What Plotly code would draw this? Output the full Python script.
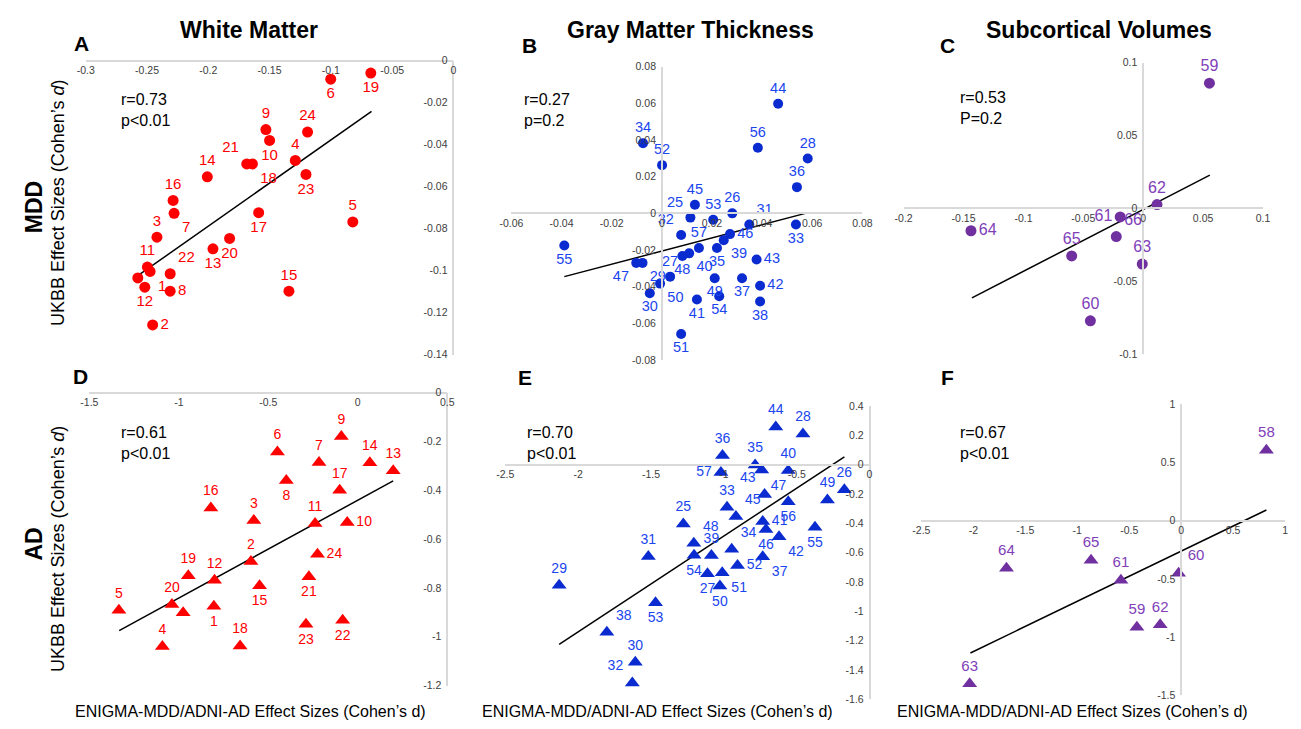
import plotly.graph_objects as go

W, H = 1301, 729

# ---------------- data ----------------
# Panel A: White Matter, MDD
a_lab = ["1","2","3","4","5","6","7","8","9","10","11","12","13","14","15","16","17","18","19","20","21","22","23","24",""]
a_x = [-0.2475,-0.2454,-0.2419,-0.129,-0.0821,-0.1001,-0.2279,-0.2311,-0.153,-0.150,-0.2497,-0.2518,-0.1962,-0.2008,-0.1342,-0.2287,-0.1589,-0.164,-0.0674,-0.1826,-0.1686,-0.2311,-0.1203,-0.119,-0.2575]
a_y = [-0.1004,-0.1259,-0.0841,-0.0475,-0.0768,-0.0088,-0.0727,-0.1098,-0.0328,-0.038,-0.0983,-0.1079,-0.0896,-0.0553,-0.1098,-0.0666,-0.0724,-0.0492,-0.0059,-0.0847,-0.0492,-0.1015,-0.0542,-0.034,-0.1035]
a_fit_x = [-0.2569, -0.0668]
a_fit_y = [-0.1022, -0.0241]

# Panel B: Gray Matter Thickness, MDD
b_lab = [str(i) for i in range(25, 58)]
b_x = [0.0114,0.0281,0.0033,0.0582,-0.0077,-0.0048,0.0349,0.0077,0.0535,-0.0075,0.022,0.0539,0.032,0.0392,0.0247,0.0109,0.014,0.0392,0.0378,0.0464,0.0132,0.0272,-0.0102,0.0082,0.0211,-0.0007,0.0077,0.0001,0.0205,0.0229,-0.0389,0.0383,0.0148]
b_y = [-0.0023,0.0,-0.0345,0.0299,-0.027,-0.0436,-0.0061,-0.0118,-0.0061,0.0383,-0.0189,0.0143,-0.0354,-0.0481,-0.0146,-0.0218,-0.047,-0.0395,-0.0252,0.0598,0.0047,-0.0113,-0.027,-0.0232,-0.0354,-0.0383,-0.0658,0.0263,-0.0035,-0.0452,-0.0175,0.0358,-0.0189]
b_fit_x = [-0.0389, 0.0584]
b_fit_y = [-0.0345, 0.0004]

# Panel C: Subcortical Volumes, MDD
c_lab = ["59","60","61","62","63","64","65","66"]
c_x = [0.0553,-0.0441,-0.0192,0.0115,-0.0008,-0.1438,-0.0597,-0.0225]
c_y = [0.086,-0.0771,-0.0058,0.0027,-0.0382,-0.0153,-0.0326,-0.0193]
c_fit_x = [-0.143, 0.0556]
c_fit_y = [-0.0614, 0.0229]

# Panel D: White Matter, AD
d_lab = a_lab
d_x = [-0.8042,-0.597,-0.581,-1.092,-1.335,-0.449,-0.2165,-0.3994,-0.0918,-0.0588,-0.2385,-0.8005,0.198,0.0676,-0.549,-0.821,-0.101,-0.6577,-0.947,-1.0385,-0.273,-0.0844,-0.2895,-0.225,-0.976]
d_y = [-0.875,-0.692,-0.524,-1.040,-0.891,-0.243,-0.286,-0.36,-0.180,-0.532,-0.536,-0.769,-0.32,-0.2875,-0.7915,-0.473,-0.400,-1.0375,-0.75,-0.868,-0.754,-0.9327,-0.949,-0.6625,-0.902]
d_fit_x = [-1.3335, 0.198]
d_fit_y = [-0.975, -0.3617]

# Panel E: Gray Matter Thickness, AD
e_lab = b_lab
e_x = [-1.278,-0.173,-1.112,-0.457,-2.130,-1.6076,-1.518,-1.6278,-0.978,-0.946,-0.785,-1.009,-0.733,-1.8027,-1.085,-0.558,-0.733,-0.621,-0.720,-0.6435,-0.917,-0.711,-0.740,-1.206,-0.289,-1.027,-1.011,-0.906,-1.4686,-1.204,-0.3744,-0.558,-1.020]
e_y = [-0.4045,-0.170,-0.744,0.210,-0.822,-1.347,-0.6257,-1.488,-0.2905,-0.5765,-0.002,0.0626,-0.628,-1.142,-0.619,-0.040,-0.3866,-0.4916,-0.203,0.257,-0.353,-0.4425,-0.036,-0.536,-0.241,-0.827,-0.737,-0.688,-0.941,-0.617,-0.4268,-0.2525,-0.054]
e_fit_x = [-2.130, -0.1726]
e_fit_y = [-1.2246, 0.0536]

# Panel F: Subcortical Volumes, AD
f_lab = ["58","59","60","61","62","63","64","65"]
f_x = [0.820,-0.426,-0.025,-0.580,-0.202,-2.035,-1.681,-0.8675]
f_y = [0.606,-0.915,-0.451,-0.51,-0.893,-1.40,-0.408,-0.338]
f_fit_x = [-2.028, 0.820]
f_fit_y = [-1.135, 0.093]

stats = ["r=0.73<br>p&lt;0.01", "r=0.27<br>p=0.2", "r=0.53<br>P=0.2",
         "r=0.61<br>p&lt;0.01", "r=0.70<br>p&lt;0.01", "r=0.67<br>p&lt;0.01"]

# tick values / labels
a_xt = [-0.3,-0.25,-0.2,-0.15,-0.1,-0.05,0]; a_xl = ["-0.3","-0.25","-0.2","-0.15","-0.1","-0.05","0"]
a_yt = [0,-0.02,-0.04,-0.06,-0.08,-0.1,-0.12,-0.14]; a_yl = ["0","-0.02","-0.04","-0.06","-0.08","-0.1","-0.12","-0.14"]
b_xt = [-0.06,-0.04,-0.02,0,0.02,0.04,0.06,0.08]; b_xl = ["-0.06","-0.04","-0.02","0","0.02","0.04","0.06","0.08"]
b_yt = [-0.08,-0.06,-0.04,-0.02,0,0.02,0.04,0.06,0.08]; b_yl = ["-0.08","-0.06","-0.04","-0.02","0","0.02","0.04","0.06","0.08"]
c_xt = [-0.2,-0.15,-0.1,-0.05,0,0.05,0.1]; c_xl = ["-0.2","-0.15","-0.1","-0.05","0","0.05","0.1"]
c_yt = [-0.1,-0.05,0,0.05,0.1]; c_yl = ["-0.1","-0.05","0","0.05","0.1"]
d_xt = [-1.5,-1,-0.5,0,0.5]; d_xl = ["-1.5","-1","-0.5","0","0.5"]
d_yt = [0,-0.2,-0.4,-0.6,-0.8,-1,-1.2]; d_yl = ["0","-0.2","-0.4","-0.6","-0.8","-1","-1.2"]
e_xt = [-2.5,-2,-1.5,-1,-0.5,0]; e_xl = ["-2.5","-2","-1.5","-1","-0.5","0"]
e_yt = [0.4,0.2,0,-0.2,-0.4,-0.6,-0.8,-1,-1.2,-1.4,-1.6]; e_yl = ["0.4","0.2","0","-0.2","-0.4","-0.6","-0.8","-1","-1.2","-1.4","-1.6"]
f_xt = [-2.5,-2,-1.5,-1,-0.5,0,0.5,1]; f_xl = ["-2.5","-2","-1.5","-1","-0.5","0","0.5","1"]
f_yt = [-1.5,-1,-0.5,0,0.5,1]; f_yl = ["-1.5","-1","-0.5","0","0.5","1"]

# ---------------- styles ----------------
a_pos = ["bottom right","middle right","top center","top center","top center","bottom center","bottom right","middle right",
         "top center","bottom center","top center","bottom center","bottom center","top center","top center","top center",
         "bottom center","bottom right","bottom center","bottom center","top left","top right","bottom center","top center","top center"]
b_pos = ["top left","top center","top center","top center","bottom right","bottom center","top right","top left","bottom center",
         "top center","bottom center","top center","bottom center","bottom center","bottom right","bottom right","bottom center",
         "middle right","middle right","top center","top center","middle right","bottom left","bottom center","bottom center",
         "bottom right","bottom center","top center","top center","bottom center","bottom center","top center","top center"]
c_pos = ["top center","top center","middle left","top center","top center","middle right","top center","top right"]
d_pos = ["bottom center","top center","top center","top center","top center","top center","top center","bottom center",
         "top center","middle right","top center","top center","top center","top center","bottom center","top center",
         "top center","top center","top center","top center","bottom center","bottom center","bottom center","middle right","top center"]
e_pos = ["top center","top center","bottom center","top center","top center","top center","top center","top left","top center",
         "top right","top center","top center","bottom right","top right","top center","top center","middle right","bottom right",
         "top left","top center","top right","bottom center","bottom right","top right","top center","bottom center","bottom right",
         "middle right","bottom center","bottom center","bottom center","bottom center","middle left"]
f_pos = ["top center","top center","top right","top center","top center","top center","top center","top center"]

RED = "#FF0000"
BLUE_M, BLUE_T = "#0A2BD0", "#1A45EE"
PUR_M, PUR_T = "#7030A0", "#8040B8"
AXC = "#D9D9D9"
FONT = "Liberation Sans, Arial, sans-serif"

# panel geometry in pixels: (left, right, top, bottom), ranges, axis crossing
panels = [
    dict(x=a_x, y=a_y, lab=a_lab, pos=a_pos, fx=a_fit_x, fy=a_fit_y, sym="circle", ms=11, mc=RED, tc=RED, ts=15,
         px=(75, 449, 55.6, 354.4), xr=(-0.3, 0), yr=(-0.14, 0), cx=0, cy=0, xt=a_xt, xl=a_xl, yt=a_yt, yl=a_yl, st=(109, 106)),
    dict(x=b_x, y=b_y, lab=b_lab, pos=b_pos, fx=b_fit_x, fy=b_fit_y, sym="circle", ms=10, mc=BLUE_M, tc=BLUE_T, ts=14.5,
         px=(508, 865, 61.7, 360), xr=(-0.06, 0.08), yr=(-0.08, 0.08), cx=0, cy=0, xt=b_xt, xl=b_xl, yt=b_yt, yl=b_yl, st=(519, 106)),
    dict(x=c_x, y=c_y, lab=c_lab, pos=c_pos, fx=c_fit_x, fy=c_fit_y, sym="circle", ms=11, mc=PUR_M, tc=PUR_T, ts=16,
         px=(907, 1272.5, 57.7, 354), xr=(-0.2, 0.1), yr=(-0.1, 0.1), cx=0, cy=0, xt=c_xt, xl=c_xl, yt=c_yt, yl=c_yl, st=(962, 104)),
    dict(x=d_x, y=d_y, lab=d_lab, pos=d_pos, fx=d_fit_x, fy=d_fit_y, sym="triangle-up", ms=13, mc=RED, tc=RED, ts=14,
         px=(78.7, 442.7, 393, 691), xr=(-1.5, 0.5), yr=(-1.2, 0), cx=0.5, cy=0, xt=d_xt, xl=d_xl, yt=d_yt, yl=d_yl, st=(109, 444)),
    dict(x=e_x, y=e_y, lab=e_lab, pos=e_pos, fx=e_fit_x, fy=e_fit_y, sym="triangle-up", ms=13, mc=BLUE_M, tc=BLUE_T, ts=14,
         px=(501.7, 872.3, 406.7, 705), xr=(-2.5, 0), yr=(-1.6, 0.4), cx=0, cy=0, xt=e_xt, xl=e_xl, yt=e_yt, yl=e_yl, st=(522, 444)),
    dict(x=f_x, y=f_y, lab=f_lab, pos=f_pos, fx=f_fit_x, fy=f_fit_y, sym="triangle-up", ms=13, mc=PUR_M, tc=PUR_T, ts=15,
         px=(925, 1295, 405, 701), xr=(-2.5, 1), yr=(-1.5, 1), cx=0, cy=0, xt=f_xt, xl=f_xl, yt=f_yt, yl=f_yl, st=(962, 444)),
]

def fx_(p):
    return p / W

def fy_(p):
    return 1 - p / H

fig = go.Figure()
layout = {}
annotations = []
for i, p in enumerate(panels, start=1):
    sfx = "" if i == 1 else str(i)
    xa, ya = "x" + sfx, "y" + sfx
    l, r, t, b = p["px"]
    xdom = [fx_(l), fx_(r)]
    ydom = [fy_(b), fy_(t)]
    # regression line
    fig.add_trace(go.Scatter(x=p["fx"], y=p["fy"], mode="lines", line=dict(color="black", width=1.5),
                             xaxis=xa, yaxis=ya, showlegend=False, hoverinfo="skip"))
    fig.add_trace(go.Scatter(x=p["x"], y=p["y"], mode="markers+text", text=p["lab"], textposition=p["pos"],
                             marker=dict(symbol=p["sym"], size=p["ms"], color=p["mc"]),
                             textfont=dict(color=p["tc"], size=p["ts"], family=FONT),
                             xaxis=xa, yaxis=ya, showlegend=False, cliponaxis=False))
    xr, yr = p["xr"], p["yr"]
    xpos = ydom[0] + (p["cy"] - yr[0]) / (yr[1] - yr[0]) * (ydom[1] - ydom[0])
    ypos = xdom[0] + (p["cx"] - xr[0]) / (xr[1] - xr[0]) * (xdom[1] - xdom[0])
    common = dict(showgrid=False, zeroline=False, showline=True, linecolor=AXC, linewidth=1.5,
                  ticks="", tickfont=dict(size=10.5, color="#404040", family=FONT), anchor="free",
                  fixedrange=True, tickmode="array")
    layout["xaxis" + sfx] = dict(common, domain=xdom, range=list(xr), position=xpos, side="bottom",
                                 tickvals=p["xt"], ticktext=p["xl"])
    layout["yaxis" + sfx] = dict(common, domain=ydom, range=list(yr), position=ypos, side="left",
                                 tickvals=p["yt"], ticktext=p["yl"], ticklabelstandoff=3)
    annotations.append(dict(text=stats[i - 1], x=fx_(p["st"][0]), y=fy_(p["st"][1]), xref="paper", yref="paper",
                            xanchor="left", yanchor="middle", align="left", showarrow=False,
                            font=dict(size=16, color="black", family=FONT)))

titles = [("White Matter", 241), ("Gray Matter Thickness", 690), ("Subcortical Volumes", 1106)]
for txt, cx in titles:
    annotations.append(dict(text="<b>" + txt + "</b>", x=fx_(cx), y=fy_(24), xref="paper", yref="paper",
                            xanchor="center", yanchor="middle", showarrow=False,
                            font=dict(size=23, color="black", family=FONT)))
letters = [("A", 71, 38), ("B", 526, 40), ("C", 952, 40), ("D", 70, 377), ("E", 522, 378), ("F", 952, 378)]
for txt, x, y in letters:
    annotations.append(dict(text="<b>" + txt + "</b>", x=fx_(x), y=fy_(y), xref="paper", yref="paper",
                            xanchor="center", yanchor="middle", showarrow=False,
                            font=dict(size=21, color="black", family=FONT)))
for txt, y in [("MDD", 205), ("AD", 547)]:
    annotations.append(dict(text="<b>" + txt + "</b>", x=fx_(22), y=fy_(y), xref="paper", yref="paper",
                            xanchor="center", yanchor="middle", showarrow=False, textangle=-90,
                            font=dict(size=23, color="black", family=FONT)))
for y in [200, 552]:
    annotations.append(dict(text="UKBB Effect Sizes (Cohen’s <i>d</i>)", x=fx_(47), y=fy_(y), xref="paper", yref="paper",
                            xanchor="center", yanchor="middle", showarrow=False, textangle=-90,
                            font=dict(size=18, color="black", family=FONT)))
for cx in [243, 657, 1079]:
    annotations.append(dict(text="ENIGMA-MDD/ADNI-AD Effect Sizes (Cohen’s d)", x=fx_(cx), y=fy_(717), xref="paper", yref="paper",
                            xanchor="center", yanchor="middle", showarrow=False,
                            font=dict(size=16, color="black", family=FONT)))

fig.update_layout(width=W, height=H, margin=dict(l=0, r=0, t=0, b=0), paper_bgcolor="white",
                  plot_bgcolor="rgba(0,0,0,0)", annotations=annotations, showlegend=False, **layout)
fig.write_html("out.html")
